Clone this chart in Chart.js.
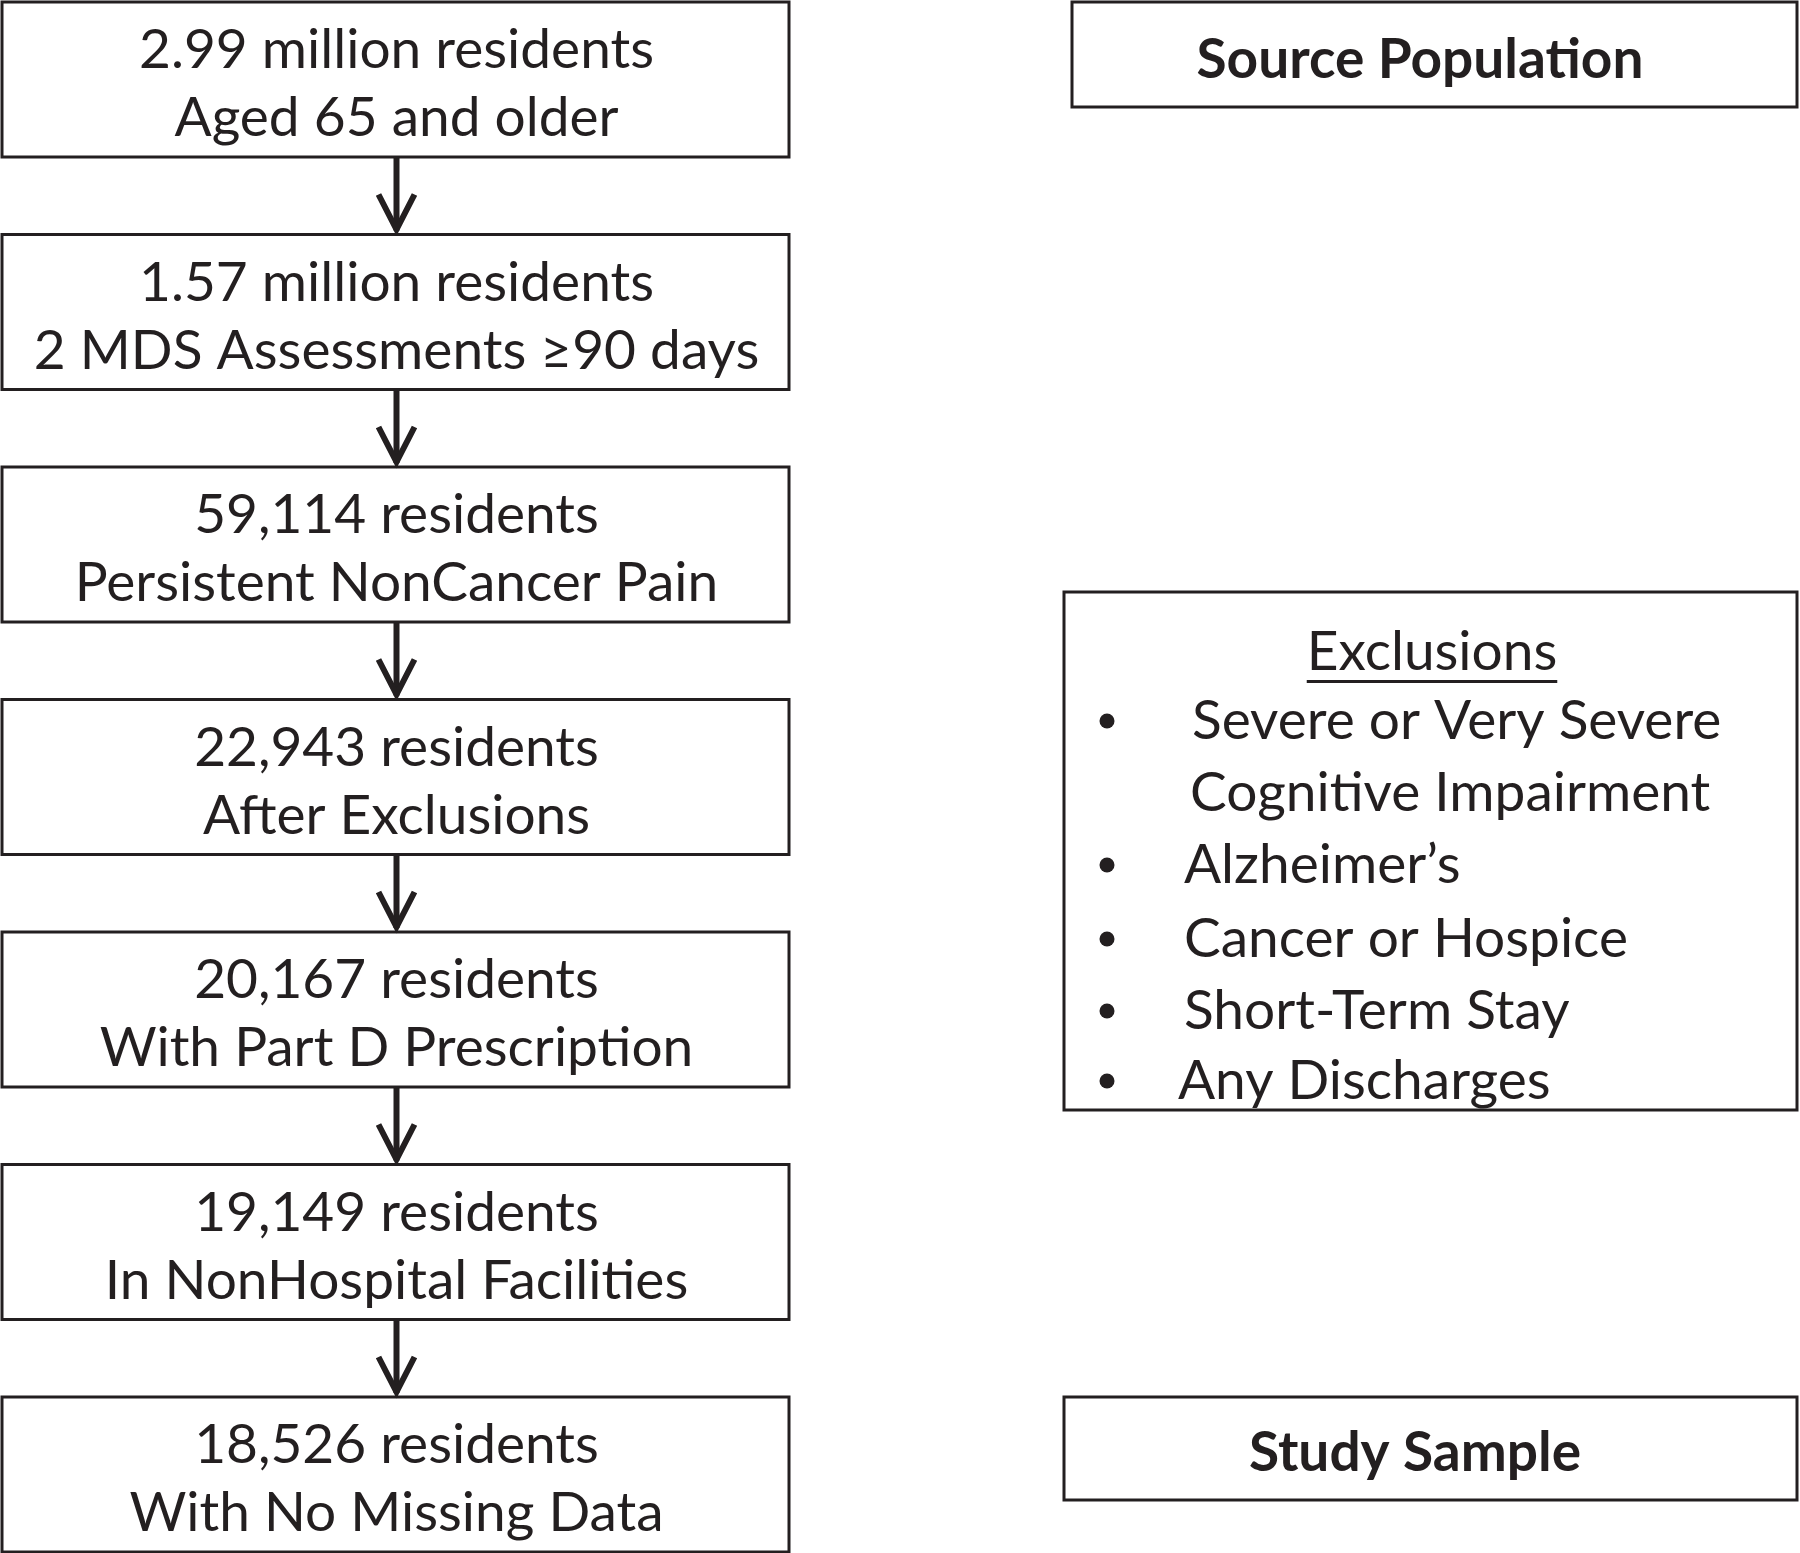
<!DOCTYPE html>
<html>
<head>
<meta charset="utf-8">
<script src="https://cdn.jsdelivr.net/npm/chart.js@4"></script>
<style>
  html, body { margin: 0; padding: 0; background: #fff; }
  #wrap { width: 1800px; height: 1553px; }
</style>
</head>
<body>
<div id="wrap"><canvas id="flow"></canvas></div>
<script>
// steps of the cohort selection, top to bottom
const counts = [
  "2.99 million residents",
  "1.57 million residents",
  "59,114 residents",
  "22,943 residents",
  "20,167 residents",
  "19,149 residents",
  "18,526 residents"
];
const criteria = [
  "Aged 65 and older",
  "2 MDS Assessments \u226590 days",
  "Persistent NonCancer Pain",
  "After Exclusions",
  "With Part D Prescription",
  "In NonHospital Facilities",
  "With No Missing Data"
];
const sideLabels = ["Source Population", "Study Sample"];
const exclusionTitle = "Exclusions";
const exclusions = [
  ["Severe or Very Severe", "Cognitive Impairment"],
  ["Alzheimer\u2019s"],
  ["Cancer or Hospice"],
  ["Short-Term Stay"],
  ["Any Discharges"]
];

// layout (in chart units, which map onto the 1800 x 1553 canvas)
const INK = "#231f20";
const FONT = "Lato, 'Open Sans', sans-serif";
const SIZE = 55;
const left = { x0: 2, x1: 789, top: 2, h: 155, pitch: 232.5 };
const right = { x0: 1064, x1: 1797 };

function rowTop(i) { return left.top + i * left.pitch; }

const flowPlugin = {
  id: "flow",
  afterDraw(chart) {
    const ctx = chart.ctx;
    const sx = chart.scales.x, sy = chart.scales.y;
    const X = v => sx.getPixelForValue(v);
    const Y = v => sy.getPixelForValue(v);

    function box(x0, y0, x1, y1) {
      ctx.save();
      ctx.strokeStyle = INK;
      ctx.lineWidth = 3;
      ctx.strokeRect(X(x0), Y(y0), X(x1) - X(x0), Y(y1) - Y(y0));
      ctx.restore();
    }

    ctx.save();
    ctx.fillStyle = INK;
    ctx.textBaseline = "middle";

    // left column boxes + arrows
    const cx = (left.x0 + left.x1) / 2 + 1;
    counts.forEach((c, i) => {
      const t = rowTop(i), b = t + left.h, mid = t + left.h / 2;
      box(left.x0, t, left.x1, b);
      ctx.font = SIZE + "px " + FONT;
      ctx.textAlign = "center";
      ctx.fillText(c, X(cx), Y(mid - 29));
      ctx.fillText(criteria[i], X(cx), Y(mid + 39));

      if (i < counts.length - 1) {
        const nt = rowTop(i + 1);
        ctx.save();
        ctx.strokeStyle = INK;
        ctx.lineWidth = 6;
        ctx.beginPath();
        ctx.moveTo(X(cx), Y(b));
        ctx.lineTo(X(cx), Y(nt - 4));
        ctx.stroke();
        ctx.lineJoin = "miter";
        ctx.beginPath();
        ctx.moveTo(X(cx - 18), Y(nt - 40));
        ctx.lineTo(X(cx), Y(nt - 5));
        ctx.lineTo(X(cx + 18), Y(nt - 40));
        ctx.stroke();
        ctx.restore();
      }
    });

    // right column
    box(1072, 2, right.x1, 107);
    ctx.font = "bold " + SIZE + "px " + FONT;
    ctx.textAlign = "center";
    ctx.fillText(sideLabels[0], X(1420), Y(60));

    box(right.x0, 1397, right.x1, 1500);
    ctx.fillText(sideLabels[1], X(1415), Y(1453));

    box(right.x0, 592, right.x1, 1110);
    ctx.font = SIZE + "px " + FONT;
    ctx.fillText(exclusionTitle, X(1432), Y(652));
    const tw = ctx.measureText(exclusionTitle).width;
    ctx.fillRect(X(1432) - tw / 2, Y(680), tw, 3);

    ctx.textAlign = "left";
    const lineY = [721, 793, 865, 939, 1011, 1081];
    const textX = [[1192, 1190], [1184], [1184], [1184], [1178]];
    let k = 0;
    exclusions.forEach((item, j) => {
      ctx.beginPath();
      ctx.arc(X(1107), Y(lineY[k]), 7.5, 0, Math.PI * 2);
      ctx.fill();
      item.forEach((line, m) => {
        ctx.fillText(line, X(textX[j][m]), Y(lineY[k]));
        k++;
      });
    });
    ctx.restore();
  }
};

new Chart(document.getElementById("flow"), {
  type: "scatter",
  data: {
    datasets: [{
      label: "steps",
      data: counts.map((c, i) => ({ x: (left.x0 + left.x1) / 2, y: rowTop(i) + left.h / 2 })),
      pointRadius: 0
    }]
  },
  options: {
    responsive: true,
    maintainAspectRatio: false,
    animation: false,
    layout: { padding: 0 },
    plugins: { legend: { display: false }, tooltip: { enabled: false } },
    scales: {
      x: { type: "linear", min: 0, max: 1800, display: false },
      y: { type: "linear", min: 0, max: 1553, reverse: true, display: false }
    }
  },
  plugins: [flowPlugin]
});
</script>
</body>
</html>
